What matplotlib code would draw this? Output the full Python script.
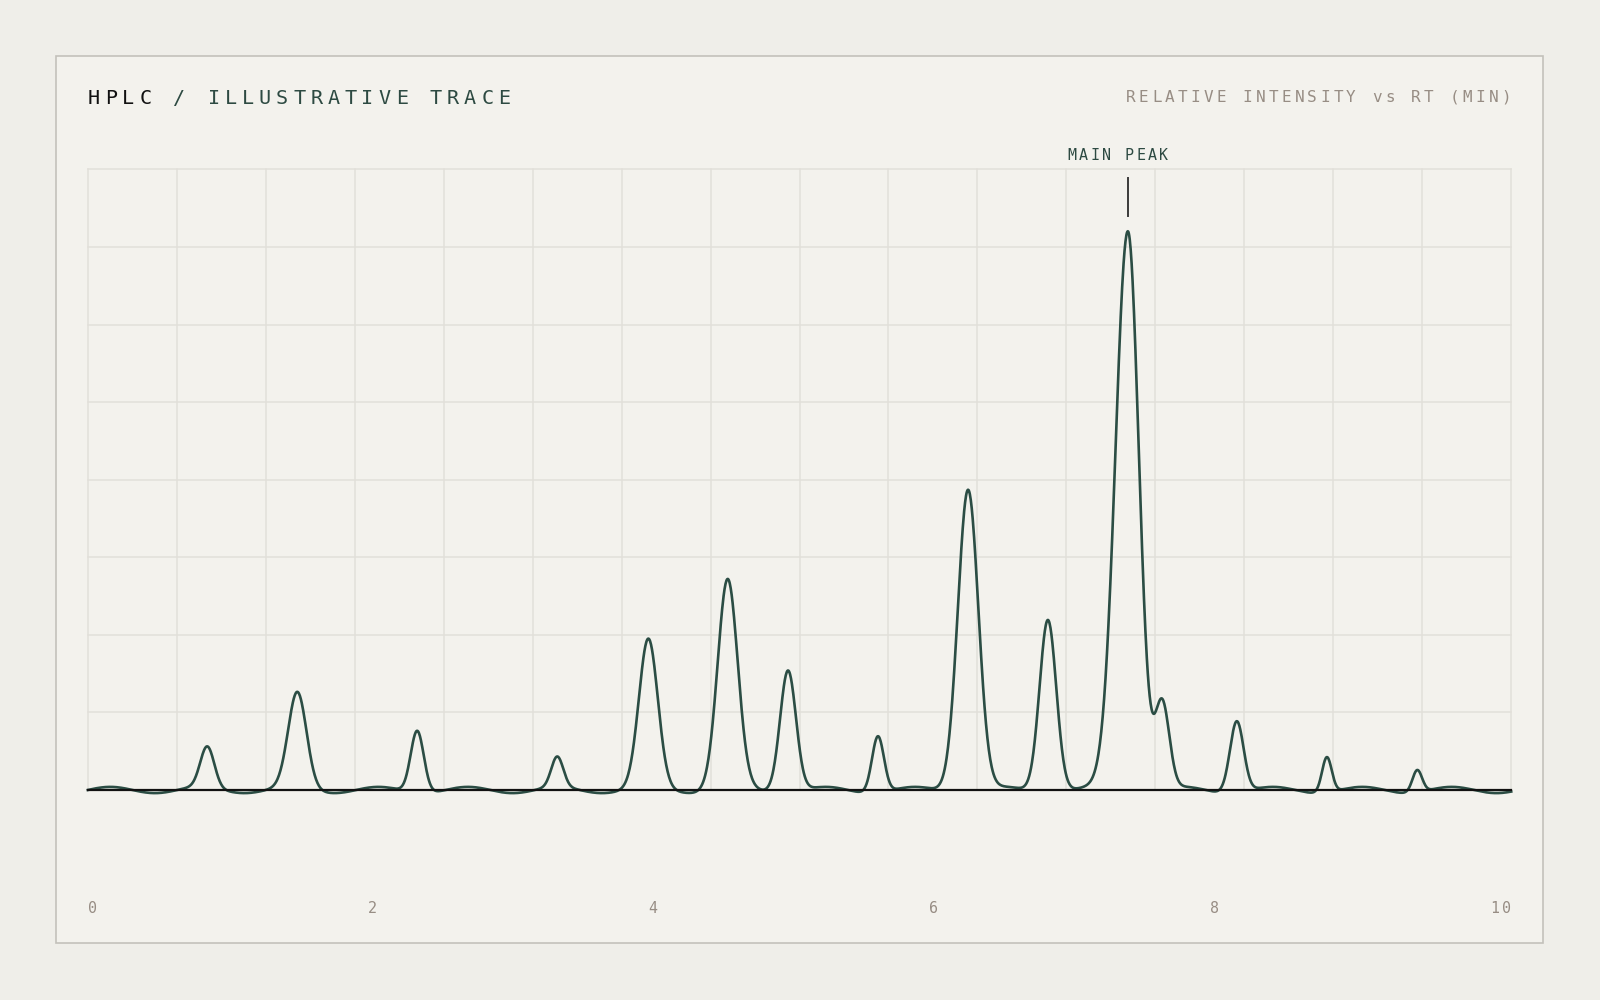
import numpy as np
import matplotlib
matplotlib.use("Agg")
import matplotlib.pyplot as plt
from matplotlib.patches import Rectangle
from matplotlib.transforms import ScaledTranslation

# ── Data ──────────────────────────────────────────────────────────────────────
# one entry per peak: retention time (min), relative height, widths (min)
peak_rt      = [0.839, 1.472, 2.314, 3.298, 3.938, 4.495, 4.919, 5.551,
                6.184, 6.745, 7.307, 7.548, 8.072, 8.705, 9.340]
peak_height  = [0.066, 0.154, 0.100, 0.049, 0.239, 0.336, 0.197, 0.091,
                0.488, 0.279, 0.904, 0.140, 0.115, 0.057, 0.036]
peak_sig_l   = [0.049, 0.064, 0.046, 0.042, 0.066, 0.070, 0.056, 0.042,
                0.072, 0.059, 0.087, 0.050, 0.048, 0.034, 0.034]
peak_sig_r   = [0.049, 0.064, 0.046, 0.042, 0.066, 0.070, 0.056, 0.042,
                0.072, 0.059, 0.077, 0.050, 0.048, 0.034, 0.034]
drift_amp    = 0.005     # small baseline wander
drift_freq   = 10.0      # rad / min
main_idx     = 10

x_tick_text  = ["0", "2", "4", "6", "8", "10"]

title_text   = "HPLC / ILLUSTRATIVE TRACE"
header_text  = "RELATIVE INTENSITY vs RT (MIN)"
marker_text  = "MAIN PEAK"

# ── Colours ───────────────────────────────────────────────────────────────────
BG       = "#efeee9"
CARD     = "#f3f2ed"
BORDER   = "#c3c1bb"
GRID     = "#e2e0da"
TRACE    = "#2b4d44"
INK      = "#111111"
GREEN    = "#2d4a42"
MUTED    = "#978d84"
MONO     = "DejaVu Sans Mono"
DPI      = 100

# ── Build trace ───────────────────────────────────────────────────────────────
t = np.linspace(0, 10, 3001)
y = drift_amp * np.sin(drift_freq * t)
for rt, h, sl, sr in zip(peak_rt, peak_height, peak_sig_l, peak_sig_r):
    sig = np.where(t < rt, sl, sr)
    y = y + h * np.exp(-0.5 * ((t - rt) / sig) ** 2)

# ── Figure ────────────────────────────────────────────────────────────────────
fig = plt.figure(figsize=(16, 10), dpi=DPI)
fig.patch.set_facecolor(BG)
fig.add_artist(Rectangle((0.035, 0.057), 0.9294, 0.887, transform=fig.transFigure,
                         facecolor=CARD, edgecolor=BORDER, linewidth=1.2, zorder=0))


def char_adv(size):
    return 0.602 * size * DPI / 72


def tracked(x, y, s, size, step, align, transform, colors):
    """Draw text char by char with extra letter spacing (step in px)."""
    adv = char_adv(size)
    span = (len(s) - 1) * step
    if align == "left":
        first = adv / 2
    elif align == "right":
        first = -span - adv / 2
    else:
        first = -span / 2
    if isinstance(colors, str):
        colors = [colors] * len(s)
    for i, ch in enumerate(s):
        if ch == " ":
            continue
        off = ScaledTranslation((first + i * step) / DPI, 0, fig.dpi_scale_trans)
        fig.text(x, y, ch, transform=transform + off, ha="center", va="baseline",
                 fontsize=size, color=colors[i], family=MONO)


# ── Header ────────────────────────────────────────────────────────────────────
title_colors = [INK] * 4 + [GREEN] * (len(title_text) - 4)
tracked(0.0549, 0.8957, title_text, 14.5, 17.1, "left", fig.transFigure, title_colors)
tracked(0.9445, 0.8983, header_text, 11.5, 12.95, "right", fig.transFigure, MUTED)

# ── Axes ──────────────────────────────────────────────────────────────────────
ax_rect = [0.0549, 0.210, 0.8896, 0.6206]
ax = fig.add_axes(ax_rect)
ax.set_facecolor("none")
ax.set_xlim(0, 10)
ax.set_ylim(0, 1)
ax.set_xticks(np.arange(0, 10.001, 0.625))
ax.set_yticks(np.arange(0, 1.001, 0.125))
ax.grid(True, color=GRID, linewidth=1.1)
for gl in ax.get_xgridlines() + ax.get_ygridlines():
    gl.set_clip_on(False)
ax.tick_params(length=0, labelbottom=False, labelleft=False)
for sp in ax.spines.values():
    sp.set_visible(False)

ax.plot(t, y, color=TRACE, linewidth=1.9, clip_on=False, zorder=3)
ax.axhline(0, color=INK, linewidth=1.6, zorder=4, clip_on=False)

# main peak marker
mrt = peak_rt[main_idx]
ax.plot([mrt, mrt], [0.925, 0.986], color="#3a3a3a", linewidth=1.4,
        clip_on=False, zorder=4)
tracked(mrt, 1.0147, marker_text, 10.8, 11.4, "center",
        ax.transData + ScaledTranslation(-10 / DPI, 0, fig.dpi_scale_trans), GREEN)

# x tick labels: spread edge to edge with equal gaps between them
tick_size, tick_step = 10.8, 12.2
axis_px = ax_rect[2] * 16 * DPI
widths = [char_adv(tick_size) + (len(s) - 1) * tick_step for s in x_tick_text]
gap = (axis_px - sum(widths)) / (len(widths) - 1)
left_px = 0.0
for lab, w in zip(x_tick_text, widths):
    tracked(left_px / axis_px, -0.1977, lab, tick_size, tick_step, "left",
            ax.transAxes, MUTED)
    left_px += w + gap

fig.savefig("out.png", dpi=DPI, facecolor=fig.get_facecolor())
